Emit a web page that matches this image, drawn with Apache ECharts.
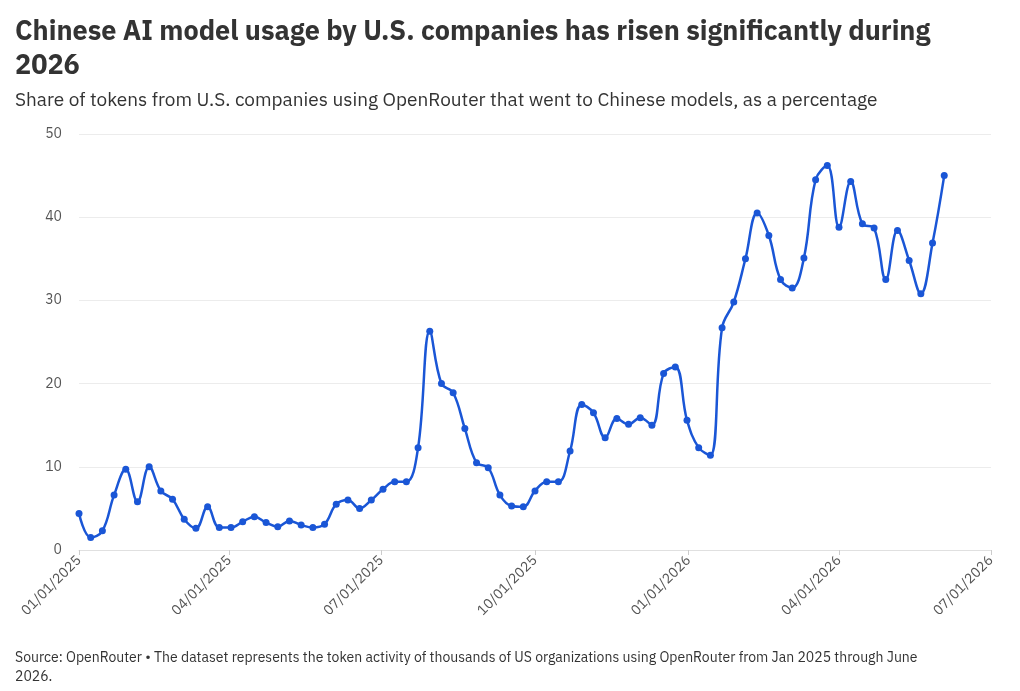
<!DOCTYPE html>
<html>
<head>
<meta charset="utf-8">
<script src="https://cdn.jsdelivr.net/npm/echarts@6/dist/echarts.min.js"></script>
<style>
  html, body { margin: 0; padding: 0; background: #fff; }
  #chart { width: 1020px; height: 691px; }
</style>
</head>
<body>
<div id="chart"></div>
<script>
// weekly points starting 2025-01-01
const startDate = '2025-01-01';
const shareValues = [
  4.4, 1.5, 2.3, 6.6, 9.7, 5.8, 10.0, 7.1, 6.1, 3.7,
  2.6, 5.2, 2.7, 2.7, 3.4, 4.0, 3.3, 2.8, 3.5, 3.0,
  2.7, 3.1, 5.5, 6.0, 5.0, 6.0, 7.3, 8.2, 8.2, 12.3,
  26.3, 20.0, 18.9, 14.6, 10.5, 9.9, 6.6, 5.3, 5.2, 7.1,
  8.2, 8.2, 11.9, 17.5, 16.5, 13.5, 15.8, 15.1, 15.9, 15.0,
  21.2, 22.0, 15.6, 12.3, 11.4, 26.7, 29.8, 35.0, 40.5, 37.8,
  32.5, 31.5, 35.1, 44.5, 46.2, 38.8, 44.3, 39.2, 38.7, 32.5,
  38.4, 34.8, 30.8, 36.9, 45.0
];
const tickDates = ['2025-01-01', '2025-04-01', '2025-07-01', '2025-10-01', '2026-01-01', '2026-04-01', '2026-07-01'];

const DAY = 86400000;
const t0 = Date.parse(startDate + 'T00:00:00Z');
const seriesData = shareValues.map((v, i) => [t0 + i * 7 * DAY, v]);
const tickTimes = tickDates.map(d => Date.parse(d + 'T00:00:00Z'));

const pad = n => String(n).padStart(2, '0');
const fmt = t => {
  const d = new Date(t);
  return pad(d.getUTCMonth() + 1) + '/' + pad(d.getUTCDate()) + '/' + d.getUTCFullYear();
};

const chart = echarts.init(document.getElementById('chart'));
const font = '"IBM Plex Sans", "Noto Sans", "Liberation Sans", sans-serif';

chart.setOption({
  animation: false,
  textStyle: { fontFamily: font },
  title: [
    {
      text: 'Chinese AI model usage by U.S. companies has risen significantly during\n2026',
      left: 10, top: 10,
      textStyle: { fontSize: 27, fontWeight: 'bold', color: '#333', lineHeight: 34, fontFamily: font }
    },
    {
      text: 'Share of tokens from U.S. companies using OpenRouter that went to Chinese models, as a percentage',
      left: 10, top: 86,
      textStyle: { fontSize: 19, fontWeight: 'normal', color: '#333', fontFamily: font }
    },
    {
      text: 'Source: OpenRouter \u2022 The dataset represents the token activity of thousands of US organizations using OpenRouter from Jan 2025 through June\n2026.',
      left: 10, top: 643,
      textStyle: { fontSize: 14, fontWeight: 'normal', color: '#333', lineHeight: 19, fontFamily: font }
    }
  ],
  grid: { left: 79, right: 29, top: 134, bottom: 141 },
  xAxis: {
    type: 'value',
    min: tickTimes[0],
    max: tickTimes[tickTimes.length - 1],
    axisLine: { lineStyle: { color: '#e0e0e0' } },
    axisTick: { show: true, customValues: tickTimes, length: 5, lineStyle: { color: '#ccc' } },
    splitLine: { show: false },
    axisLabel: {
      customValues: tickTimes,
      formatter: v => fmt(v),
      rotate: 45,
      color: '#555',
      fontSize: 14,
      margin: 8,
      hideOverlap: false,
      showMinLabel: true,
      showMaxLabel: true
    }
  },
  yAxis: {
    type: 'value',
    min: 0, max: 50, interval: 10,
    axisLine: { show: false },
    axisTick: { show: false },
    splitLine: { lineStyle: { color: '#ececec' } },
    axisLabel: { color: '#555', fontSize: 14, margin: 17 }
  },
  series: [{
    type: 'line',
    data: seriesData,
    smooth: 0.4,
    symbol: 'circle',
    symbolSize: 7,
    lineStyle: { color: '#1a56d6', width: 2.5 },
    itemStyle: { color: '#1a56d6' }
  }]
});
</script>
</body>
</html>
